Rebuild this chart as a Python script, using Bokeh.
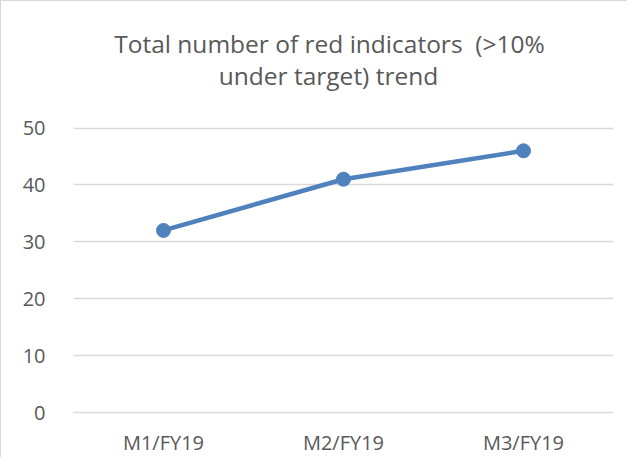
from bokeh.plotting import figure
from bokeh.models import FactorRange, Range1d, FixedTicker, Label
from bokeh.embed import file_html
from bokeh.resources import INLINE

categories = ["M1/FY19", "M2/FY19", "M3/FY19"]
values = [32, 41, 46]
y_ticks = [0, 10, 20, 30, 40, 50]
title_lines = ["Total number of red indicators \u00a0(>10%", "under target) trend"]

TEXT = "#595959"
GRID = "#d9d9d9"
BLUE = "#4f81bd"
FONT = "Open Sans"

# Layout: the value axis (0..50) occupies 288 px; the frame extends upward
# to hold the title, so the range top is set from the pixel layout.
W, H = 627, 457
TOP, BOTTOM, LEFT, RIGHT = 8, 41, 72, 15
AXIS_PX = 288
frame_h = H - TOP - BOTTOM
y_top = max(y_ticks) * frame_h / AXIS_PX

p = figure(
    width=W, height=H,
    x_range=FactorRange(*categories),
    y_range=Range1d(0, y_top),
    output_backend="svg", toolbar_location=None,
    min_border_left=LEFT, min_border_right=RIGHT,
    min_border_top=TOP, min_border_bottom=BOTTOM,
)
p.styles = {"border-top": f"1px solid {GRID}", "border-left": f"1px solid {GRID}"}

# title lines, positioned in screen pixels relative to the plot frame
for line, sx, sy in zip(title_lines, [256, 255], [369, 337]):
    p.add_layout(Label(
        x=sx, y=sy, x_units="screen", y_units="screen", text=line,
        text_align="center", text_baseline="middle",
        text_font=FONT, text_font_size="24.5px", text_color=TEXT,
    ))

p.outline_line_color = None
p.background_fill_color = "white"
p.border_fill_color = "white"

p.xgrid.grid_line_color = None
p.ygrid.grid_line_color = GRID
p.ygrid.grid_line_width = 1.3

p.yaxis.ticker = FixedTicker(ticks=y_ticks)
p.yaxis.axis_line_color = None
p.yaxis.major_tick_line_color = None
p.yaxis.minor_tick_line_color = None
p.yaxis.major_label_standoff = 22
p.yaxis.major_label_text_font = FONT
p.yaxis.major_label_text_font_size = "20px"
p.yaxis.major_label_text_color = TEXT

p.xaxis.axis_line_color = GRID
p.xaxis.axis_line_width = 1.3
p.xaxis.major_tick_line_color = None
p.xaxis.minor_tick_line_color = None
p.xaxis.major_label_standoff = 10
p.xaxis.major_label_text_font = FONT
p.xaxis.major_label_text_font_size = "20px"
p.xaxis.major_label_text_color = TEXT

p.line(categories, values, line_color=BLUE, line_width=4.5)
p.scatter(categories, values, size=14, fill_color=BLUE, line_color=BLUE)

open("out.html", "w").write(file_html(p, INLINE))
